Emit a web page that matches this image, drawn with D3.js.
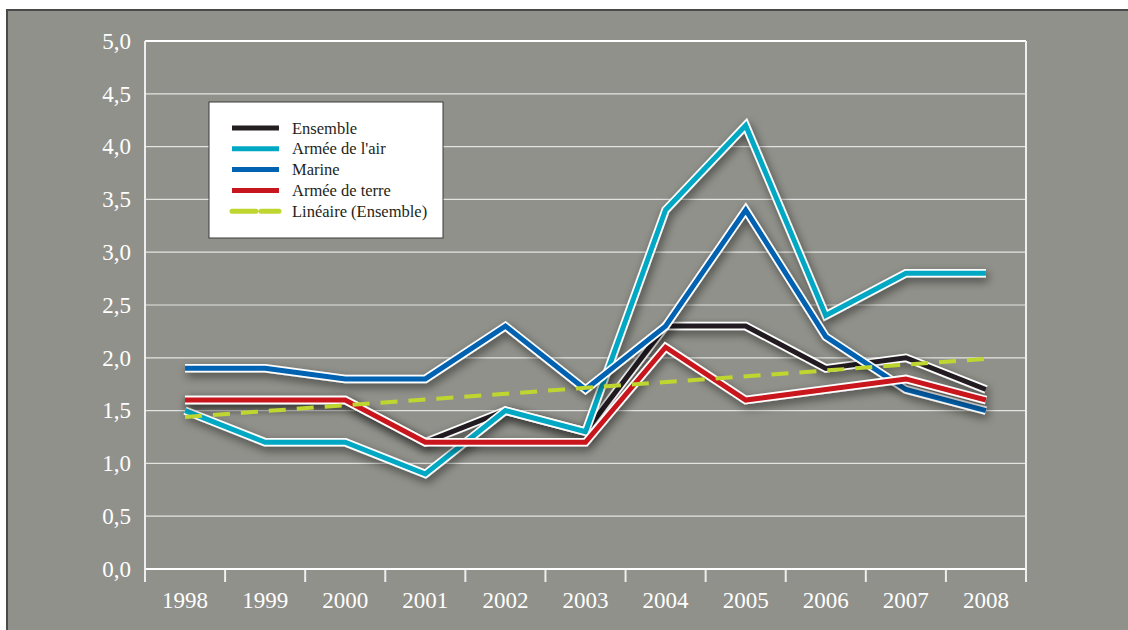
<!DOCTYPE html>
<html>
<head>
<meta charset="utf-8">
<script src="https://cdn.jsdelivr.net/npm/d3@7"></script>
<style>
  body { margin: 0; background: #fff; }
  svg { display: block; }
  text { font-family: "Liberation Serif", "DejaVu Serif", serif; }
</style>
</head>
<body>
<svg id="chart" width="1128" height="630"></svg>
<script>
// data
var years = ["1998", "1999", "2000", "2001", "2002", "2003", "2004", "2005", "2006", "2007", "2008"];
var ensemble = [1.6, 1.6, 1.6, 1.2, 1.5, 1.3, 2.3, 2.3, 1.9, 2.0, 1.7];
var armeeAir = [1.5, 1.2, 1.2, 0.9, 1.5, 1.3, 3.4, 4.2, 2.4, 2.8, 2.8];
var marine = [1.9, 1.9, 1.8, 1.8, 2.3, 1.7, 2.3, 3.4, 2.2, 1.7, 1.5];
var armeeTerre = [1.6, 1.6, 1.6, 1.2, 1.2, 1.2, 2.1, 1.6, 1.7, 1.8, 1.6];
var trendYears = ["1998", "2008"];
var trendValues = [1.44, 1.99];
var yTicks = [0, 0.5, 1, 1.5, 2, 2.5, 3, 3.5, 4, 4.5, 5];

var seriesNames = ["Ensemble", "Armée de l'air", "Marine", "Armée de terre", "Linéaire (Ensemble)"];
var seriesColors = ["#231f20", "#00a8c3", "#0062b0", "#c8161e", "#bfd631"];

var svg = d3.select("#chart");
var plotL = 145, plotR = 1026, plotT = 41, plotB = 569;

// panel
svg.append("rect")
    .attr("x", 7).attr("y", 10).attr("width", 1130).attr("height", 630)
    .attr("fill", "#91918b").attr("stroke", "#4a4a48").attr("stroke-width", 2);

var defs = svg.append("defs");
var f = defs.append("filter").attr("id", "shadow")
    .attr("x", "-10%").attr("y", "-10%").attr("width", "120%").attr("height", "130%");
f.append("feGaussianBlur").attr("in", "SourceAlpha").attr("stdDeviation", 5).attr("result", "blur");
f.append("feOffset").attr("in", "blur").attr("dx", 2).attr("dy", 4).attr("result", "off");
f.append("feFlood").attr("flood-color", "#000").attr("flood-opacity", 0.5);
f.append("feComposite").attr("in2", "off").attr("operator", "in").attr("result", "sh");
var m = f.append("feMerge");
m.append("feMergeNode").attr("in", "sh");
m.append("feMergeNode").attr("in", "SourceGraphic");

var x = d3.scaleBand().domain(years).range([plotL, plotR]);
var y = d3.scaleLinear().domain([0, 5]).range([plotB, plotT]);

// gridlines
svg.append("g").selectAll("line")
    .data(yTicks.slice(1))
    .enter().append("line")
    .attr("x1", plotL).attr("x2", plotR)
    .attr("y1", d => y(d)).attr("y2", d => y(d))
    .attr("stroke", "#fff").attr("stroke-opacity", d => d == 5 ? 1 : 0.75)
    .attr("stroke-width", d => d == 5 ? 2 : 1.2);

// y axis
var yAxis = svg.append("g")
    .attr("transform", "translate(" + plotL + ",0)")
    .call(d3.axisLeft(y).tickValues(yTicks).tickSize(0).tickPadding(14)
        .tickFormat(d => d3.format(".1f")(d).replace(".", ",")));
yAxis.select(".domain").remove();
yAxis.selectAll("text").attr("fill", "#fff").attr("font-size", 23)
    .attr("font-family", "Liberation Serif");

// x axis
var xAxis = svg.append("g")
    .attr("transform", "translate(0," + plotB + ")")
    .call(d3.axisBottom(x).tickSize(0).tickPadding(23));
xAxis.select(".domain").remove();
xAxis.selectAll("text").attr("fill", "#fff").attr("font-size", 23)
    .attr("font-family", "Liberation Serif");

var xTicks = years.map(d => x(d)).concat([plotR]);
svg.append("g").selectAll("line")
    .data(xTicks)
    .enter().append("line")
    .attr("x1", d => d).attr("x2", d => d)
    .attr("y1", plotB).attr("y2", plotB + 13)
    .attr("stroke", "#eee").attr("stroke-width", 2);

// frame lines
svg.append("line").attr("x1", plotL).attr("x2", plotR).attr("y1", plotB).attr("y2", plotB)
    .attr("stroke", "#fff").attr("stroke-width", 2);
svg.append("line").attr("x1", plotL).attr("x2", plotL).attr("y1", plotT).attr("y2", plotB + 13)
    .attr("stroke", "#eee").attr("stroke-width", 2);
svg.append("line").attr("x1", plotR).attr("x2", plotR).attr("y1", plotT).attr("y2", plotB + 13)
    .attr("stroke", "#eee").attr("stroke-width", 2);

// series lines
var line = d3.line()
    .x((d, i) => x(years[i]) + x.bandwidth() / 2)
    .y(d => y(d));

var series = [ensemble, armeeAir, marine, armeeTerre];
series.forEach(function (vals, k) {
    var g = svg.append("g").attr("filter", "url(#shadow)");
    g.append("path").datum(vals).attr("d", line)
        .attr("fill", "none").attr("stroke", "#fff").attr("stroke-width", 8.5)
        .attr("stroke-linejoin", "miter").attr("stroke-miterlimit", 10);
    g.append("path").datum(vals).attr("d", line)
        .attr("fill", "none").attr("stroke", seriesColors[k]).attr("stroke-width", 5)
        .attr("stroke-linejoin", "miter").attr("stroke-miterlimit", 10);
});

// linear trend
var trendLine = d3.line()
    .x((d, i) => x(trendYears[i]) + x.bandwidth() / 2)
    .y(d => y(d));
svg.append("path").datum(trendValues).attr("d", trendLine)
    .attr("fill", "none").attr("stroke", seriesColors[4]).attr("stroke-width", 4)
    .attr("stroke-dasharray", "17,11");

// legend
var lg = svg.append("g").attr("transform", "translate(209,102)");
lg.append("rect").attr("width", 234).attr("height", 136)
    .attr("fill", "#fff").attr("stroke", "#3a3a3a").attr("stroke-width", 1);
var rows = lg.selectAll("g.item").data(seriesNames).enter().append("g")
    .attr("class", "item")
    .attr("transform", (d, i) => "translate(0," + (26 + i * 20.8) + ")");
rows.append("line")
    .attr("x1", 23).attr("x2", 70).attr("y1", 0).attr("y2", 0)
    .attr("stroke", (d, i) => seriesColors[i]).attr("stroke-width", 5)
    .attr("stroke-dasharray", (d, i) => i == 4 ? "24,5" : null)
    .attr("stroke-linecap", (d, i) => i == 4 ? "round" : "butt");
rows.append("text")
    .attr("x", 83).attr("y", 5.5)
    .attr("font-size", 16.5).attr("fill", "#231f20")
    .text(d => d);
</script>
</body>
</html>
